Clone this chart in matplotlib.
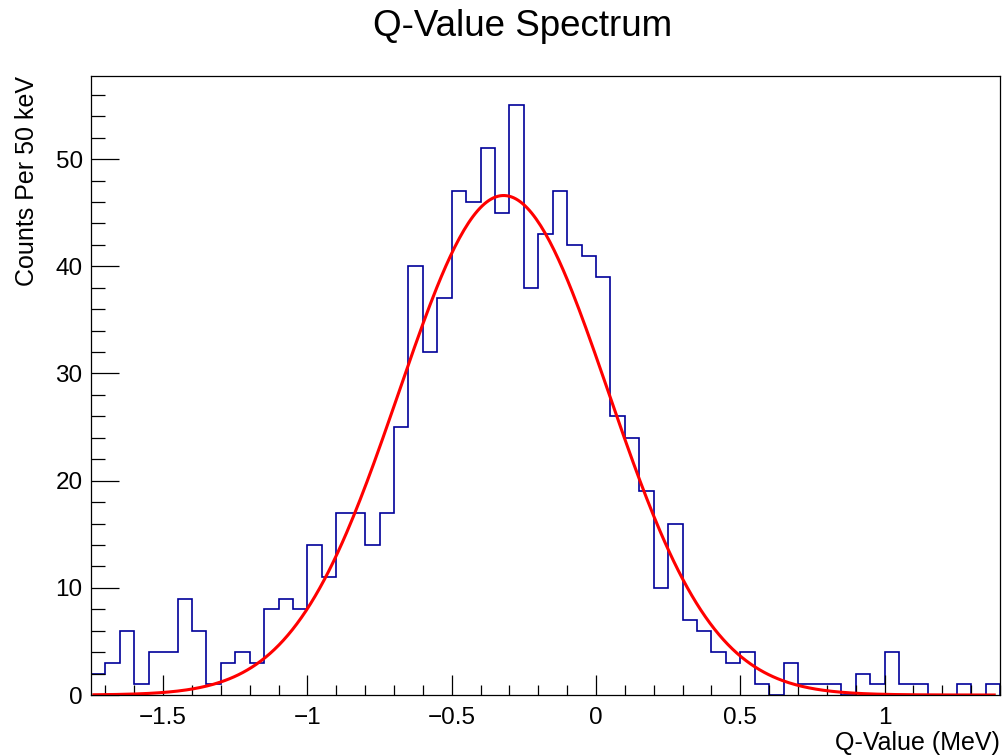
import numpy as np
import matplotlib
matplotlib.use('Agg')
import matplotlib.pyplot as plt
from matplotlib.ticker import MultipleLocator

plt.rcParams['font.family'] = ['Liberation Sans', 'DejaVu Sans']

# histogram: 50 keV bins from -1.75 to 1.40 MeV
q_lo, q_hi = -1.75, 1.40
counts = [2, 3, 6, 1, 4, 4, 9, 6, 1, 3,
          4, 3, 8, 9, 8, 14, 11, 17, 17, 14,
          17, 25, 40, 32, 37, 47, 46, 51, 45, 55,
          38, 43, 47, 42, 41, 39, 26, 24, 19, 10,
          16, 7, 6, 4, 3, 4, 1, 0, 3, 1,
          1, 1, 0, 2, 1, 4, 1, 1, 0, 0,
          1, 0, 1]

# gaussian fit parameters
fit_amp = 46.6
fit_mean = -0.32
fit_sigma = 0.363
fit_range = (-1.74, 1.38)

edges = np.linspace(q_lo, q_hi, len(counts) + 1)

fig = plt.figure(figsize=(10.03, 7.55), dpi=100)
ax = fig.add_axes([91/1003, 1 - 695/755, 909/1003, 619/755])

ax.stairs(counts, edges, color='#000099', lw=1.2, baseline=0)

xf = np.linspace(fit_range[0], fit_range[1], 400)
yf = fit_amp * np.exp(-0.5 * ((xf - fit_mean) / fit_sigma) ** 2)
ax.plot(xf, yf, color='#ff0000', lw=2.2)

ax.set_xlim(q_lo, q_hi)
ax.set_ylim(0, 1.05 * max(counts))

ax.xaxis.set_major_locator(MultipleLocator(0.5))
ax.xaxis.set_minor_locator(MultipleLocator(0.1))
ax.yaxis.set_major_locator(MultipleLocator(10))
ax.yaxis.set_minor_locator(MultipleLocator(2))
ax.xaxis.set_major_formatter(plt.FuncFormatter(
    lambda v, p: ('%g' % v).replace('-', '\u2212')))

ax.tick_params(axis='both', which='both', direction='in', top=False, right=False,
               labelsize=17.5, width=0.9, colors='black')
ax.tick_params(axis='x', which='major', length=14.5, pad=9)
ax.tick_params(axis='x', which='minor', length=7.2)
ax.tick_params(axis='y', which='major', length=20, pad=6)
ax.tick_params(axis='y', which='minor', length=10)
for s in ax.spines.values():
    s.set_linewidth(0.9)

ax.set_xlabel('Q-Value (MeV)', fontsize=18, loc='right', labelpad=1)
ax.set_ylabel('Counts Per 50 keV', fontsize=18, loc='top', labelpad=12)

fig.text(523/1003, 1 - 27/755, 'Q-Value Spectrum', fontsize=26.5,
         ha='center', va='center')

fig.savefig('out.png', dpi=100)
